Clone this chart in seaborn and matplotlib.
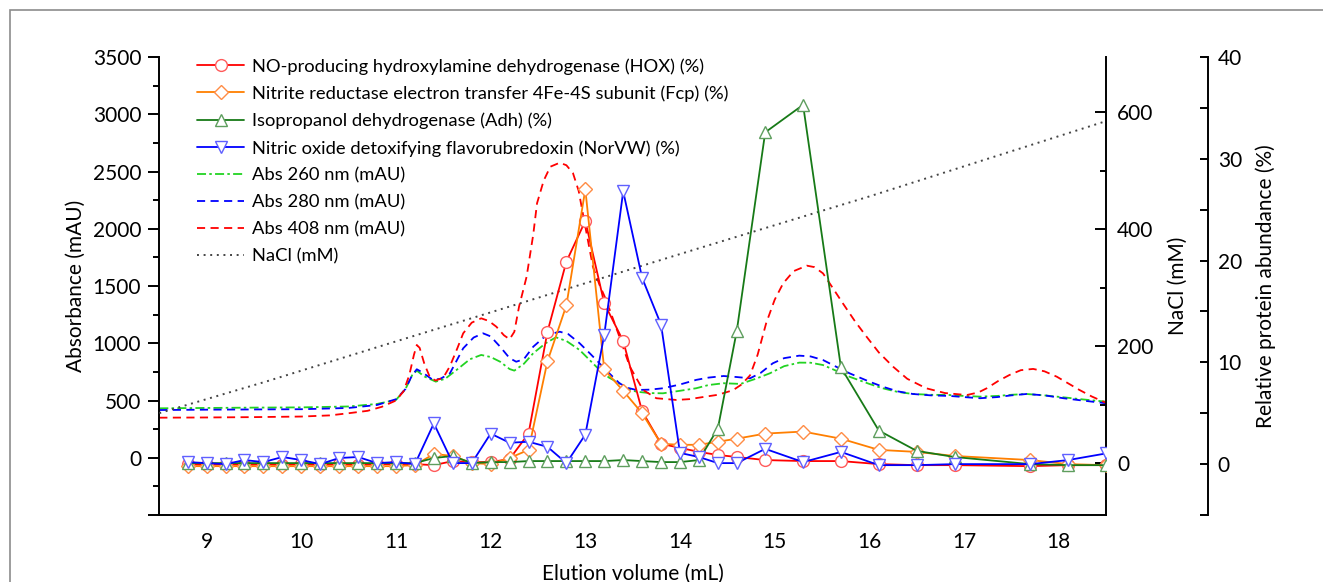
import matplotlib
matplotlib.use("Agg")
import matplotlib.pyplot as plt
from matplotlib.patches import Rectangle
from matplotlib.ticker import MultipleLocator
import pandas as pd
import seaborn as sns

# protein abundance (%) per fraction
X_PROT = [8.8, 9.0, 9.2, 9.4, 9.6, 9.8, 10.0, 10.2, 10.4, 10.6, 10.8, 11.0, 11.2,
          11.4, 11.6, 11.8, 12.0, 12.2, 12.4, 12.6, 12.8, 13.0, 13.2, 13.4, 13.6,
          13.8, 14.0, 14.2, 14.4, 14.6, 14.9, 15.3, 15.7, 16.1, 16.5, 16.9, 17.7,
          18.1, 18.5]
HOX = [0.0, -0.1, 0.0, -0.1, 0.0, -0.1, 0.0, -0.1, 0.0, -0.1, 0.0, 0.0, 0.0,
       -0.1, 0.3, 0.2, 0.2, 0.5, 3.0, 13.0, 19.9, 23.9, 15.8, 12.1, 5.2,
       2.0, 1.6, 1.2, 0.9, 0.7, 0.4, 0.3, 0.3, 0.0, -0.1, -0.1, -0.2,
       -0.1, -0.1]
FCP = [-0.2, -0.2, -0.2, -0.2, -0.2, -0.2, -0.2, -0.2, -0.2, -0.2, -0.2, -0.2, -0.1,
       1.0, 0.8, 0.1, 0.0, 0.6, 1.4, 10.1, 15.6, 27.0, 9.3, 7.2, 5.0,
       2.0, 1.9, 1.9, 2.2, 2.5, 3.0, 3.2, 2.5, 1.4, 1.2, 0.8, 0.4,
       0.0, -0.1]
ADH = [0.1, 0.1, 0.1, 0.1, 0.1, 0.1, 0.1, 0.1, 0.1, 0.1, 0.1, 0.1, 0.1,
       0.6, 0.8, 0.1, 0.2, 0.2, 0.3, 0.3, 0.3, 0.3, 0.3, 0.4, 0.3,
       0.2, 0.2, 0.4, 3.5, 13.1, 32.6, 35.3, 9.5, 3.3, 1.3, 0.7, 0.0,
       -0.1, -0.1]
NORVW = [0.2, 0.1, 0.0, 0.4, 0.2, 0.7, 0.4, 0.0, 0.6, 0.7, 0.1, 0.2, 0.0,
         4.0, 0.1, 0.1, 3.0, 2.1, 2.2, 1.7, 0.1, 2.9, 12.7, 26.8, 18.3,
         13.7, 1.1, 0.7, 0.1, 0.1, 1.5, 0.2, 1.2, -0.1, -0.1, 0.0, 0.0,
         0.4, 1.05]

# absorbance traces (mAU)
X_408 = [8.5, 9.0, 9.5, 10.0, 10.3, 10.5, 10.7, 10.85, 11.0, 11.08, 11.14, 11.19,
         11.22, 11.25, 11.3, 11.36, 11.42, 11.5, 11.57, 11.65, 11.71, 11.8, 11.9,
         11.98, 12.06, 12.14, 12.2, 12.25, 12.3, 12.38, 12.45, 12.49, 12.56, 12.63,
         12.73, 12.8, 12.87, 12.93, 12.98, 13.08, 13.15, 13.22, 13.36, 13.47, 13.61,
         13.75, 13.96, 14.1, 14.24, 14.4, 14.56, 14.65, 14.74, 14.82, 14.91, 15.0,
         15.09, 15.2, 15.34, 15.42, 15.51, 15.6, 15.72, 15.85, 15.97, 16.1, 16.25,
         16.4, 16.6, 16.8, 17.03, 17.15, 17.24, 17.36, 17.48, 17.6, 17.73, 17.85,
         17.98, 18.1, 18.22, 18.35, 18.5]
ABS_408 = [350, 352, 355, 360, 370, 389, 410, 445, 500, 580, 720, 900,
           985, 960, 820, 700, 675, 700, 800, 960, 1087, 1180, 1218,
           1195, 1145, 1070, 1035, 1100, 1320, 1582, 1950, 2223, 2420, 2542,
           2577, 2555, 2485, 2330, 2106, 1669, 1510, 1378, 1058, 796, 592,
           520, 505, 512, 530, 550, 590, 640, 720, 900, 1175, 1380,
           1524, 1630, 1678, 1665, 1611, 1500, 1349, 1190, 1058, 920, 796,
           690, 607, 565, 548, 570, 607, 670, 723, 765, 776, 755,
           708, 650, 592, 535, 480]

X_280 = [8.5, 9.0, 9.5, 10.0, 10.5, 10.8, 11.0, 11.1, 11.17, 11.22, 11.28, 11.39,
         11.47, 11.57, 11.71, 11.82, 11.92, 12.0, 12.1, 12.2, 12.27, 12.35, 12.45,
         12.59, 12.73, 12.82, 12.94, 13.05, 13.15, 13.25, 13.36, 13.45, 13.54, 13.68,
         13.82, 14.0, 14.17, 14.3, 14.46, 14.6, 14.74, 14.85, 14.98, 15.1, 15.26,
         15.38, 15.51, 15.65, 15.79, 16.0, 16.14, 16.3, 16.46, 16.65, 16.85, 17.0,
         17.17, 17.35, 17.5, 17.66, 17.85, 18.05, 18.25, 18.5]
ABS_280 = [417, 420, 422, 424, 435, 461, 511, 600, 720, 773, 745, 680,
           690, 738, 956, 1050, 1087, 1060, 970, 870, 839, 860, 970,
           1072, 1101, 1080, 1000, 910, 825, 740, 651, 610, 592, 595,
           607, 640, 680, 700, 714, 705, 694, 740, 825, 870, 892,
           885, 854, 795, 738, 665, 621, 580, 557, 545, 540, 530,
           520, 530, 545, 557, 545, 520, 500, 476]

X_260 = [8.5, 9.0, 9.5, 10.0, 10.5, 10.8, 11.0, 11.1, 11.17, 11.22, 11.3, 11.42,
         11.52, 11.64, 11.78, 11.9, 12.0, 12.1, 12.2, 12.25, 12.35, 12.45, 12.58,
         12.69, 12.8, 12.94, 13.05, 13.15, 13.25, 13.36, 13.45, 13.54, 13.68, 13.82,
         14.0, 14.17, 14.3, 14.46, 14.64, 14.8, 14.95, 15.1, 15.26, 15.38, 15.51,
         15.65, 15.79, 16.0, 16.14, 16.3, 16.46, 16.65, 16.85, 17.0, 17.17, 17.35,
         17.5, 17.66, 17.85, 18.05, 18.25, 18.5]
ABS_260 = [432, 435, 438, 440, 448, 470, 505, 600, 720, 761, 710, 665,
           690, 767, 860, 898, 880, 839, 775, 761, 820, 913, 1000,
           1052, 1020, 941, 850, 767, 700, 651, 600, 577, 565, 563,
           585, 607, 635, 651, 645, 690, 738, 800, 831, 830, 810,
           760, 708, 645, 607, 575, 557, 550, 548, 540, 534, 540,
           550, 557, 545, 528, 510, 490]

# NaCl gradient (mM)
X_NACL = [8.5, 9.63, 10.83, 12.0, 14.21, 16.0, 18.47]
NACL = [86, 140, 200, 258, 368, 456, 583]

LABELS = [
    "NO-producing hydroxylamine dehydrogenase (HOX) (%)",
    "Nitrite reductase electron transfer 4Fe-4S subunit (Fcp) (%)",
    "Isopropanol dehydrogenase (Adh) (%)",
    "Nitric oxide detoxifying flavorubredoxin (NorVW) (%)",
    "Abs 260 nm (mAU)",
    "Abs 280 nm (mAU)",
    "Abs 408 nm (mAU)",
    "NaCl (mM)",
]

sns.set_theme(style="white", rc={
    "text.color": "black", "axes.labelcolor": "black",
    "xtick.color": "black", "ytick.color": "black",
    "axes.edgecolor": "black", "axes.linewidth": 1.4,
})
plt.rcParams["font.family"] = ["Lato", "DejaVu Sans"]

fig = plt.figure(figsize=(13.23, 5.82), dpi=100)
ax = fig.add_axes([0.1204, 0.1151, 0.7156, 0.7869])
ax_na = ax.twinx()
ax_pct = ax.twinx()

# absorbance traces
sns.lineplot(x=X_260, y=ABS_260, ax=ax, color="#22D322", linewidth=1.3,
             linestyle=(0, (5, 1.8, 1.4, 1.8)), estimator=None,
             sort=False, label=LABELS[4])
sns.lineplot(x=X_280, y=ABS_280, ax=ax, color="#0000FF", linewidth=1.3,
             linestyle=(0, (4.5, 3)), estimator=None, sort=False, label=LABELS[5])
sns.lineplot(x=X_408, y=ABS_408, ax=ax, color="#FF0000", linewidth=1.3,
             linestyle=(0, (4.5, 3)), estimator=None, sort=False, label=LABELS[6])

sns.lineplot(x=X_NACL, y=NACL, ax=ax_na, color="#444444", linewidth=1.4,
             linestyle=(0, (1, 2.4)), estimator=None, sort=False, label=LABELS[7])

prot = [
    (HOX, "o", "#FF0000", "#FF5A5A", 8.5),
    (FCP, "D", "#FF7F00", "#FF8C45", 7.5),
    (ADH, "^", "#177A17", "#5E9E5E", 9),
    (NORVW, "v", "#0000FF", "#6060FF", 9),
]
for i, (vals, mk, col, mec, ms) in enumerate(prot):
    sns.lineplot(x=X_PROT, y=vals, ax=ax_pct, color=col, linewidth=1.3,
                 marker=mk, markersize=ms, markerfacecolor="white",
                 markeredgecolor=mec, markeredgewidth=1.0,
                 estimator=None, sort=False, label=LABELS[i])

for a in (ax, ax_na, ax_pct):
    if a.get_legend() is not None:
        a.get_legend().remove()

# main axis
ax.set_xlim(8.5, 18.5)
ax.set_ylim(-500, 3500)
ax.xaxis.set_major_locator(MultipleLocator(1))
ax.xaxis.set_minor_locator(MultipleLocator(0.5))
ax.yaxis.set_minor_locator(MultipleLocator(250))
ax.set_xticks(range(9, 19))
ax.set_yticks([-500, 0, 500, 1000, 1500, 2000, 2500, 3000, 3500])
ax.set_yticklabels([""] + [str(v) for v in range(0, 3501, 500)])
ax.tick_params(which="major", direction="out", length=8, width=1.4, labelsize=15, pad=5)
ax.tick_params(which="minor", direction="out", length=4, width=1.4)
ax.tick_params(axis="x", which="major", length=7)
ax.set_xlabel("Elution volume (mL)", fontsize=15, labelpad=9)
ax.set_ylabel("Absorbance (mAU)", fontsize=15, labelpad=5)
ax.spines["top"].set_visible(False)
ax.spines["right"].set_visible(False)

# NaCl axis on the right spine
ax_na.set_ylim(-88, 694)
ax_na.yaxis.set_minor_locator(MultipleLocator(100))
ax_na.set_yticks([0, 200, 400, 600])
ax_na.tick_params(which="major", direction="in", length=8, width=1.4, labelsize=15, pad=8)
ax_na.tick_params(which="minor", direction="in", length=4, width=1.4)
ax_na.set_ylabel("NaCl (mM)", fontsize=15, labelpad=10)
for s in ("top", "left", "bottom"):
    ax_na.spines[s].set_visible(False)

# protein abundance axis, offset outward
ax_pct.set_ylim(-5, 40)
ax_pct.yaxis.set_minor_locator(MultipleLocator(5))
ax_pct.set_yticks([0, 10, 20, 30, 40])
ax_pct.spines["right"].set_position(("outward", 73.4))
ax_pct.tick_params(which="major", direction="in", length=6, width=1.4, labelsize=15, pad=7)
ax_pct.tick_params(which="minor", direction="in", length=6, width=1.4)
ax_pct.set_ylabel("Relative protein abundance (%)", fontsize=15, labelpad=10)
for s in ("top", "left", "bottom"):
    ax_pct.spines[s].set_visible(False)

for a in (ax, ax_na, ax_pct):
    a.grid(False)

h1, l1 = ax.get_legend_handles_labels()
h2, l2 = ax_na.get_legend_handles_labels()
h3, l3 = ax_pct.get_legend_handles_labels()
handles = dict(zip(l1 + l2 + l3, h1 + h2 + h3))
ax_pct.legend([handles[l] for l in LABELS], LABELS, loc="upper left",
              bbox_to_anchor=(0.0395, 0.998), frameon=False, fontsize=13.2,
              handlelength=2.6, handletextpad=0.4, labelspacing=0.59,
              borderpad=0, borderaxespad=0, numpoints=1)

# outer frame as in the source figure
fig.patches.append(Rectangle((10 / 1323, -0.5), 2, 1 - 10 / 582 + 0.5,
                             transform=fig.transFigure, fill=False,
                             edgecolor="#8C8C8C", linewidth=1.2))

fig.savefig("out.png", dpi=100)
